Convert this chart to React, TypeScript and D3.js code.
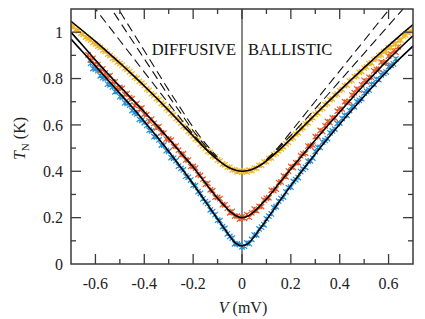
import React, { useEffect, useRef } from 'react';
import * as d3 from 'd3';

// measured noise temperature, sampled every 0.01 mV
const yellowStart = -0.7;
const yellowT = [
  1.027, 1.021, 1.012, 1.006, 0.995, 0.990, 0.979, 0.972, 0.966, 0.955,
  0.948, 0.940, 0.934, 0.922, 0.917, 0.905, 0.899, 0.888, 0.882, 0.872,
  0.865, 0.858, 0.845, 0.840, 0.829, 0.820, 0.806, 0.801, 0.788, 0.780,
  0.770, 0.755, 0.749, 0.735, 0.728, 0.714, 0.708, 0.693, 0.687, 0.671,
  0.664, 0.650, 0.643, 0.628, 0.620, 0.608, 0.594, 0.588, 0.572, 0.565,
  0.553, 0.540, 0.534, 0.518, 0.511, 0.500, 0.486, 0.481, 0.466, 0.462,
  0.449, 0.444, 0.432, 0.428, 0.418, 0.417, 0.406, 0.406, 0.398, 0.403,
  0.396,
  0.402, 0.397, 0.405, 0.403, 0.414, 0.413, 0.425, 0.426, 0.440, 0.442,
  0.455, 0.458, 0.472, 0.477, 0.488, 0.497, 0.506, 0.518, 0.525, 0.540,
  0.545, 0.560, 0.566, 0.582, 0.588, 0.604, 0.609, 0.624, 0.631, 0.645,
  0.652, 0.667, 0.672, 0.688, 0.693, 0.708, 0.712, 0.729, 0.733, 0.748,
  0.753, 0.769, 0.772, 0.789, 0.792, 0.808, 0.811, 0.827, 0.830, 0.845,
  0.850, 0.864, 0.868, 0.882, 0.886, 0.899, 0.903, 0.916, 0.919, 0.932,
  0.935, 0.948, 0.950, 0.964, 0.966, 0.983, 0.988, 0.998, 1.003, 1.014,
];

const orangeStart = -0.63;
const orangeT = [
  0.902, 0.879, 0.887, 0.862, 0.860, 0.834, 0.842, 0.824, 0.805, 0.813,
  0.787, 0.786, 0.760, 0.762, 0.758, 0.732, 0.735, 0.718, 0.713, 0.684,
  0.692, 0.668, 0.673, 0.647, 0.644, 0.617, 0.625, 0.607, 0.587, 0.593,
  0.567, 0.565, 0.539, 0.539, 0.534, 0.507, 0.509, 0.491, 0.470, 0.476,
  0.449, 0.448, 0.421, 0.421,
  0.414, 0.386, 0.382, 0.366, 0.343, 0.348, 0.320, 0.316, 0.288, 0.287,
  0.282, 0.256, 0.255, 0.241, 0.221, 0.227, 0.207, 0.207, 0.194, 0.203,
  0.197, 0.213, 0.202, 0.221, 0.237, 0.230, 0.249, 0.248, 0.276, 0.283,
  0.286, 0.318, 0.317, 0.323, 0.351, 0.354, 0.380, 0.376, 0.401, 0.421,
  0.416, 0.437, 0.437, 0.467, 0.475, 0.478, 0.509, 0.508, 0.513,
  0.549, 0.551, 0.576, 0.572, 0.596, 0.615, 0.610, 0.630, 0.630, 0.659,
  0.667, 0.669, 0.700, 0.697, 0.702, 0.729, 0.739, 0.755, 0.750, 0.773,
  0.792, 0.786, 0.805, 0.805, 0.833, 0.840, 0.841, 0.871, 0.867, 0.871,
  0.897, 0.905, 0.921, 0.914, 0.937,
];

const blueStart = -0.62;
const blueT = [
  0.865, 0.843, 0.841, 0.834, 0.812, 0.804, 0.800, 0.776, 0.773, 0.764,
  0.743, 0.744, 0.722, 0.719, 0.695, 0.693, 0.685, 0.662, 0.653, 0.648,
  0.624, 0.620, 0.610, 0.598, 0.577, 0.574, 0.549, 0.548, 0.535, 0.513,
  0.513, 0.489, 0.486, 0.459, 0.456, 0.446, 0.422, 0.412, 0.406, 0.379,
  0.374, 0.362,
  0.340, 0.338, 0.312, 0.305, 0.281, 0.269, 0.261, 0.233, 0.226, 0.213,
  0.189, 0.187, 0.161, 0.154, 0.130, 0.119, 0.112, 0.087, 0.087, 0.084,
  0.074,
  0.077, 0.091, 0.088, 0.106, 0.125, 0.126, 0.151, 0.159, 0.169, 0.195,
  0.206, 0.216, 0.243, 0.247, 0.271, 0.282, 0.289, 0.311, 0.330, 0.332,
  0.356, 0.364, 0.373, 0.399, 0.409, 0.417, 0.443, 0.445, 0.457,
  0.485, 0.503, 0.503, 0.526, 0.533, 0.541, 0.566, 0.574, 0.582, 0.606,
  0.608, 0.628, 0.641, 0.641, 0.662, 0.679, 0.678, 0.700, 0.706, 0.713,
  0.737, 0.745, 0.751, 0.775, 0.775, 0.797, 0.795, 0.816, 0.822, 0.828,
  0.851, 0.857, 0.863, 0.885,
];

// model fits
const fitV = [
  -0.7, -0.65, -0.6, -0.55, -0.5, -0.45, -0.4, -0.35, -0.3, -0.25, -0.2, -0.15, -0.1,
  -0.075, -0.05, -0.025, 0, 0.025, 0.05, 0.075,
  0.1, 0.15, 0.2, 0.25, 0.3, 0.35, 0.4, 0.45, 0.5, 0.55, 0.6, 0.65, 0.7,
];
const yellowFit = [
  1.047, 1.004, 0.960, 0.914, 0.867, 0.818, 0.768, 0.716, 0.662, 0.607, 0.552, 0.498, 0.450,
  0.430, 0.414, 0.404, 0.400, 0.403, 0.412, 0.426,
  0.445, 0.490, 0.540, 0.592, 0.645, 0.697, 0.748, 0.798, 0.847, 0.895, 0.942, 0.988, 1.033,
];
const orangeFit = [
  1.000, 0.940, 0.880, 0.822, 0.766, 0.711, 0.656, 0.599, 0.540, 0.479, 0.418, 0.350, 0.284,
  0.255, 0.228, 0.208, 0.200, 0.207, 0.226, 0.252,
  0.280, 0.345, 0.410, 0.472, 0.535, 0.596, 0.656, 0.715, 0.773, 0.829, 0.883, 0.935, 0.985,
];
const blueFit = [
  0.970, 0.912, 0.854, 0.795, 0.736, 0.677, 0.615, 0.552, 0.485, 0.416, 0.345, 0.270, 0.194,
  0.157, 0.120, 0.089, 0.078, 0.088, 0.118, 0.154,
  0.190, 0.265, 0.338, 0.408, 0.475, 0.540, 0.603, 0.664, 0.724, 0.782, 0.838, 0.890, 0.940,
];

// limiting curves without cooling (dashed)
const diffusiveV = [-0.1, -0.15, -0.2, -0.25, -0.3, -0.35, -0.4, -0.45, -0.5, -0.55, -0.6, -0.65];
const diffusiveA = [0.45, 0.50, 0.56, 0.625, 0.692, 0.76, 0.828, 0.896, 0.964, 1.032, 1.10, 1.168];
const diffusiveB = [0.455, 0.51, 0.575, 0.65, 0.725, 0.805, 0.885, 0.965, 1.045, 1.125, 1.205, 1.285];
const diffusiveC = [0.46, 0.52, 0.59, 0.67, 0.75, 0.835, 0.92, 1.005, 1.09, 1.175, 1.26, 1.345];
const ballisticV = [0.1, 0.15, 0.2, 0.25, 0.3, 0.35, 0.4, 0.45, 0.5, 0.55, 0.6, 0.65, 0.7];
const ballisticA = [0.45, 0.505, 0.57, 0.636, 0.702, 0.768, 0.833, 0.899, 0.964, 1.03, 1.095, 1.16, 1.225];
const ballisticB = [0.45, 0.50, 0.555, 0.612, 0.67, 0.729, 0.789, 0.849, 0.909, 0.969, 1.029, 1.089, 1.149];

const xMajor = [-0.6, -0.4, -0.2, 0, 0.2, 0.4, 0.6];
const xMinor = [-0.5, -0.3, -0.1, 0.1, 0.3, 0.5];
const yMajor = [0, 0.2, 0.4, 0.6, 0.8, 1];
const yMinor = [0.1, 0.3, 0.5, 0.7, 0.9];

const FONT = '"Liberation Serif", "Times New Roman", serif';

export default function App() {
  const ref = useRef<SVGSVGElement>(null);

  useEffect(() => {
    const svg = d3.select(ref.current);
    svg.selectAll('*').remove();

    const left = 71, right = 413, top = 9, bottom = 264;
    const x = d3.scaleLinear().domain([-0.7, 0.7]).range([left, right]);
    const y = d3.scaleLinear().domain([0, 1.1]).range([bottom, top]);

    svg.append('defs').append('clipPath').attr('id', 'plot-clip')
      .append('rect')
      .attr('x', left).attr('y', top)
      .attr('width', right - left).attr('height', bottom - top);

    const plot = svg.append('g').attr('clip-path', 'url(#plot-clip)');

    // zero-bias divider
    plot.append('line')
      .attr('x1', x(0)).attr('x2', x(0))
      .attr('y1', top).attr('y2', bottom)
      .attr('stroke', '#111').attr('stroke-width', 1);

    // data points as small crosses
    const cross = 'M-2.7,-2.7L2.7,2.7M-2.7,2.7L2.7,-2.7M0,-2.2L0,2.2';
    const series = [
      { start: blueStart, values: blueT, color: '#2490d8' },
      { start: orangeStart, values: orangeT, color: '#e65a2a' },
      { start: yellowStart, values: yellowT, color: '#f2b624' },
    ];
    series.forEach(s => {
      plot.append('g')
        .selectAll('path')
        .data(s.values)
        .enter()
        .append('path')
        .attr('d', cross)
        .attr('transform', (d, i) => `translate(${x(s.start + i * 0.01)},${y(d)})`)
        .attr('stroke', s.color)
        .attr('stroke-width', 1.2)
        .attr('fill', 'none');
    });

    const line = d3.line<[number, number]>()
      .x(d => x(d[0]))
      .y(d => y(d[1]))
      .curve(d3.curveMonotoneX);

    // fits
    [yellowFit, orangeFit, blueFit].forEach(f => {
      plot.append('path')
        .attr('d', line(fitV.map((v, i) => [v, f[i]] as [number, number])))
        .attr('fill', 'none')
        .attr('stroke', '#000')
        .attr('stroke-width', 1.6);
    });

    // dashed limits
    const dashed = [
      { v: diffusiveV, t: diffusiveA },
      { v: diffusiveV, t: diffusiveB },
      { v: diffusiveV, t: diffusiveC },
      { v: ballisticV, t: ballisticA },
      { v: ballisticV, t: ballisticB },
    ];
    dashed.forEach(d => {
      const pts = d.v.map((v, i) => [v, d.t[i]] as [number, number]).sort((a, b) => a[0] - b[0]);
      plot.append('path')
        .attr('d', line(pts))
        .attr('fill', 'none')
        .attr('stroke', '#111')
        .attr('stroke-width', 1.1)
        .attr('stroke-dasharray', '9,5');
    });

    // frame
    const axisColor = '#3a3a3a';
    svg.append('rect')
      .attr('x', left).attr('y', top)
      .attr('width', right - left).attr('height', bottom - top)
      .attr('fill', 'none').attr('stroke', axisColor).attr('stroke-width', 1.5);

    // inward ticks on all four sides
    const ticks = svg.append('g').attr('stroke', axisColor).attr('stroke-width', 1.3);
    const xTick = (v: number, len: number) => {
      ticks.append('line').attr('x1', x(v)).attr('x2', x(v)).attr('y1', bottom).attr('y2', bottom - len);
      ticks.append('line').attr('x1', x(v)).attr('x2', x(v)).attr('y1', top).attr('y2', top + len);
    };
    const yTick = (v: number, len: number) => {
      ticks.append('line').attr('y1', y(v)).attr('y2', y(v)).attr('x1', left).attr('x2', left + len);
      ticks.append('line').attr('y1', y(v)).attr('y2', y(v)).attr('x1', right).attr('x2', right - len);
    };
    xMajor.forEach(v => xTick(v, 10));
    xMinor.forEach(v => xTick(v, 5));
    yMajor.filter(v => v > 0).forEach(v => yTick(v, 10));
    yMinor.forEach(v => yTick(v, 5));

    // tick labels
    svg.append('g').selectAll('text').data(xMajor).enter().append('text')
      .attr('x', d => x(d)).attr('y', 289)
      .attr('text-anchor', 'middle')
      .style('font-family', FONT).style('font-size', '16px').attr('fill', '#222')
      .text(d => String(d));
    svg.append('g').selectAll('text').data(yMajor).enter().append('text')
      .attr('x', 63).attr('y', d => y(d)).attr('dy', '0.35em')
      .attr('text-anchor', 'end')
      .style('font-family', FONT).style('font-size', '16px').attr('fill', '#222')
      .text(d => String(d));

    // axis titles
    const xt = svg.append('text')
      .attr('x', 243).attr('y', 313).attr('text-anchor', 'middle')
      .style('font-family', FONT).style('font-size', '16px').attr('fill', '#222');
    xt.append('tspan').style('font-style', 'italic').text('V');
    xt.append('tspan').text(' (mV)');

    const yt = svg.append('text')
      .attr('transform', `translate(25,${(top + bottom) / 2 + 2}) rotate(-90)`)
      .attr('text-anchor', 'middle')
      .style('font-family', FONT).style('font-size', '16px').attr('fill', '#222');
    yt.append('tspan').style('font-style', 'italic').text('T');
    yt.append('tspan').attr('dy', 4).style('font-size', '11px').text('N');
    yt.append('tspan').attr('dy', -4).text(' (K)');

    // regime labels
    svg.append('text')
      .attr('x', 236).attr('y', 55).attr('text-anchor', 'end')
      .style('font-family', FONT).style('font-size', '16.5px').attr('fill', '#111')
      .text('DIFFUSIVE');
    svg.append('text')
      .attr('x', 248).attr('y', 55)
      .style('font-family', FONT).style('font-size', '16.5px').attr('fill', '#111')
      .text('BALLISTIC');
  }, []);

  return (
    <svg
      ref={ref}
      width={425}
      height={319}
      style={{ position: 'absolute', left: 0, top: 0, background: '#fff' }}
    />
  );
}
